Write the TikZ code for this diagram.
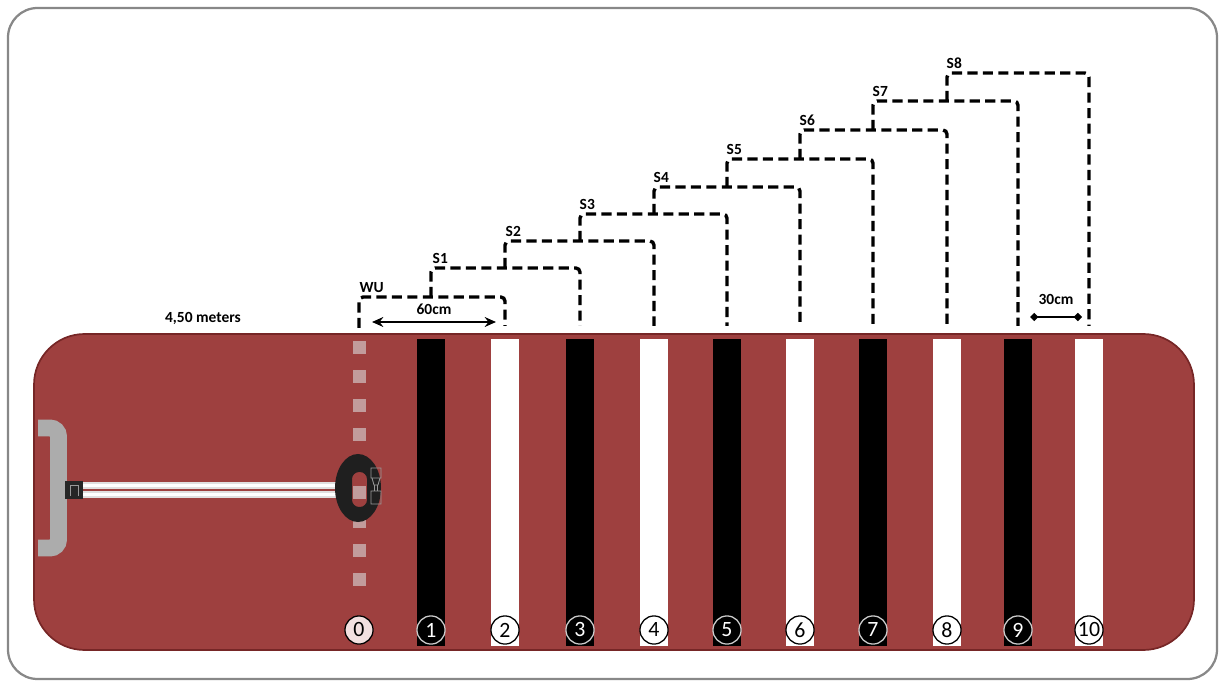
\documentclass[tikz,border=0pt]{standalone}
\usepackage{fontspec}
\setmainfont{Carlito}
\usetikzlibrary{arrows.meta}

\definecolor{matred}{RGB}{158,64,63}
\definecolor{matedge}{RGB}{118,38,38}
\definecolor{marker}{RGB}{194,156,156}
\definecolor{handlegray}{RGB}{172,172,172}
\definecolor{framegray}{RGB}{136,136,136}
\definecolor{zerofill}{RGB}{242,224,224}

\tikzset{
  stage/.style={line width=2.4pt,dash pattern=on 7.2pt off 3.8pt,rounded corners=3pt},
  tag/.style={anchor=south west,inner sep=1pt,font=\bfseries\fontsize{11}{11}\selectfont},
  span/.style={line width=1.6pt}
}

\begin{document}
\begin{tikzpicture}[x=0.025cm,y=-0.025cm]
\useasboundingbox (0,0) rectangle (1219,682);

% frame and mat
\draw[framegray,line width=1.6pt,rounded corners=21pt] (8,8) rectangle (1217,679);
\filldraw[fill=matred,draw=matedge,line width=1.2pt,rounded corners=36pt] (34,334) rectangle (1194,650);

% start line
\foreach \y in {341,370,...,601}
    \fill[marker] (352.5,\y) rectangle +(13,13);
\coordinate (b0) at (359,492.5);

% tape stripes
\begin{scope}[every node/.style={rectangle,inner sep=0pt,minimum width=20.6pt,minimum height=218.4pt}]
    \node[fill=black] (b1) at (431,492.5) {};
    \node[fill=white] (b2) at (505,492.5) {};
    \node[fill=black] (b3) at (580,492.5) {};
    \node[fill=white] (b4) at (654,492.5) {};
    \node[fill=black] (b5) at (727,492.5) {};
    \node[fill=white] (b6) at (800,492.5) {};
    \node[fill=black] (b7) at (873,492.5) {};
    \node[fill=white] (b8) at (947,492.5) {};
    \node[fill=black] (b9) at (1018,492.5) {};
    \node[fill=white] (b10) at (1089,492.5) {};
\end{scope}

% stripe numbers
\begin{scope}[every node/.style={circle,inner sep=0pt,minimum size=20pt,line width=0.9pt,font=\fontsize{15.5}{15.5}\selectfont}]
    \node[draw=black,fill=zerofill] (n0) at (359,630) {0};
    \node[draw=black!20,fill=black,text=white] (n1) at (431,630) {1};
    \node[draw=black,fill=white] (n2) at (505,630) {2};
    \node[draw=black!20,fill=black,text=white] (n3) at (580,630) {3};
    \node[draw=black,fill=white] (n4) at (654,630) {4};
    \node[draw=black!20,fill=black,text=white] (n5) at (727,630) {5};
    \node[draw=black,fill=white] (n6) at (800,630) {6};
    \node[draw=black!20,fill=black,text=white] (n7) at (873,630) {7};
    \node[draw=black,fill=white] (n8) at (947,630) {8};
    \node[draw=black!20,fill=black,text=white] (n9) at (1018,630) {9};
    \node[draw=black,fill=white] (n10) at (1089,630) {10};
\end{scope}

% sled handle and rope
\draw[handlegray,line width=12pt,rounded corners=6pt] (38,428) -- (58.5,428) -- (58.5,548) -- (38,548);
\fill[black!12] (83,482) rectangle (336,489.5);
\fill[black!12] (83,491) rectangle (336,498.5);
\fill[white] (83,484) rectangle (336,487);
\fill[white] (83,493) rectangle (336,496);
\fill[black!85] (65,481) rectangle (83,499);
\draw[black!40,line width=0.6pt] (70,496) -- (70,485) -- (78,485) -- (78,496);

% harness
\fill[black!88,even odd rule] (358,488) ellipse [x radius=23,y radius=34]
    [rounded corners=5pt] (352,472) rectangle (367,507);
\draw[black!40,line width=0.6pt] (371,468) rectangle (381,478)
    (372,478) -- (374,485) -- (378,485) -- (380,478)
    (374.5,485) rectangle (377.5,491)
    (371,491) rectangle (381,504);

% stages
\draw[stage] (b0 |- 0,328) -- (b0 |- 0,297) -- (b2 |- 0,297) -- (b2 |- 0,326);
\draw[stage] (b1 |- 0,297) -- (b1 |- 0,268) -- (b3 |- 0,268) -- (b3 |- 0,326);
\draw[stage] (b2 |- 0,268) -- (b2 |- 0,241) -- (b4 |- 0,241) -- (b4 |- 0,326);
\draw[stage] (b3 |- 0,241) -- (b3 |- 0,214) -- (b5 |- 0,214) -- (b5 |- 0,326);
\draw[stage] (b4 |- 0,214) -- (b4 |- 0,187) -- (b6 |- 0,187) -- (b6 |- 0,326);
\draw[stage] (b5 |- 0,187) -- (b5 |- 0,159) -- (b7 |- 0,159) -- (b7 |- 0,326);
\draw[stage] (b6 |- 0,159) -- (b6 |- 0,130) -- (b8 |- 0,130) -- (b8 |- 0,326);
\draw[stage] (b7 |- 0,130) -- (b7 |- 0,101) -- (b9 |- 0,101) -- (b9 |- 0,326);
\draw[stage] (b8 |- 0,101) -- (b8 |- 0,73) -- (b10 |- 0,73) -- (b10 |- 0,326);

\node[tag] (wu) at (358,294) {WU};
\node[tag] (s1) at (431,265) {S1};
\node[tag] (s2) at (504,238) {S2};
\node[tag] (s3) at (578,211) {S3};
\node[tag] (s4) at (652,184) {S4};
\node[tag] (s5) at (725,156) {S5};
\node[tag] (s6) at (798,127) {S6};
\node[tag] (s7) at (871,98) {S7};
\node[tag] (s8) at (945,70) {S8};

% distances
\node[font=\bfseries\fontsize{11}{11}\selectfont] (len) at (203,318) {4,50 meters};
\coordinate (w0) at (372,322);
\coordinate (w1) at (496,322);
\draw[span,{Stealth[length=8pt,width=7pt]}-{Stealth[length=8pt,width=7pt]}] (w0) -- (w1)
    node[midway,above=1pt,font=\bfseries\fontsize{11}{11}\selectfont] (d60) {60cm};
\coordinate (g0) at (1030,317);
\coordinate (g1) at (1082,317);
\draw[span,{Diamond[length=6pt,width=6pt]}-{Diamond[length=6pt,width=6pt]}] (g0) -- (g1)
    node[midway,above=5pt,font=\bfseries\fontsize{11}{11}\selectfont] (d30) {30cm};
\end{tikzpicture}
\end{document}
